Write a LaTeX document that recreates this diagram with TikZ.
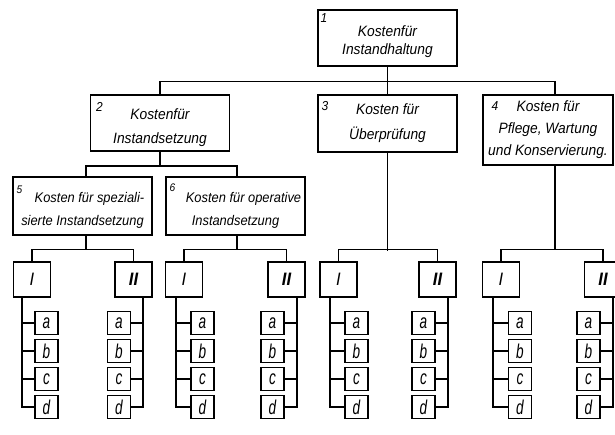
\documentclass[tikz,border=0pt]{standalone}
\usepackage{fontspec}
\setmainfont{Liberation Sans}[FakeStretch=0.92]
\newfontfamily\smallletters{Liberation Sans}[FakeStretch=0.68]
\usetikzlibrary{calc}
\begin{document}
\begin{tikzpicture}[x=1pt,y=-1pt,
  conn/.style={line width=1.1pt},
  box/.style={draw,line width=1.4pt,inner sep=0pt,align=center,font=\itshape\fontsize{15}{22}\selectfont},
  num/.style={inner sep=0pt,font=\itshape\fontsize{13}{13}\selectfont},
  rom/.style={draw,line width=1.4pt,minimum width=37pt,minimum height=35pt,inner sep=0pt,font=\itshape\fontsize{18}{18}\selectfont},
  sm/.style={draw,line width=1.4pt,minimum width=23pt,minimum height=23pt,inner sep=0pt,font=\smallletters\itshape\fontsize{20}{20}\selectfont}]
\useasboundingbox (0,0) rectangle (615,434);
\clip (0,0) rectangle (615,434);

% level 1
\node[box,minimum width=139pt,minimum height=56pt] (b1) at (387.5,38) {\rule{0pt}{19pt}Kostenfür\\[-4pt]Instandhaltung};
% level 2
\node[box,minimum width=139pt,minimum height=56pt] (b2) at (160,123) {\rule{0pt}{20pt}Kostenfür\\[2pt]Instandsetzung};
\node[box,minimum width=139pt,minimum height=57pt] (b3) at (387.5,123.5) {Kosten für\\[3pt]Überprüfung};
\node[box,minimum width=130pt,minimum height=70pt] (b4) at (548,130) {Kosten für\\Pflege, Wartung\\und Konservierung.};
% level 3
\node[box,minimum width=139pt,minimum height=58pt,font=\itshape\fontsize{14}{22}\selectfont] (b5) at (82.5,206) {\rule{0pt}{19pt}\hspace*{14pt}Kosten für speziali-\\[1pt]sierte Instandsetzung};
\node[box,minimum width=139pt,minimum height=58pt,font=\itshape\fontsize{14}{22}\selectfont] (b6) at (235.5,206) {\rule{0pt}{19pt}\hspace*{16pt}Kosten für operative\\[1pt]Instandsetzung};

% numbers
\node[num] (n1) at (324,18) {1};
\node[num] (n2) at (99.5,107) {2};
\node[num] (n3) at (325,106) {3};
\node[num] (n4) at (495,106) {4};
\node[num,font=\itshape\fontsize{11}{11}\selectfont] (n5) at (19.5,190) {5};
\node[num,font=\itshape\fontsize{11}{11}\selectfont] (n6) at (172.5,188) {6};

% drop points
\coordinate (b4top) at (555,95);
\coordinate (b4bot) at (555,165);
\coordinate (b5top) at (86,177);
\coordinate (b5bot) at (86,235);
\coordinate (b6top) at (237,177);
\coordinate (b6bot) at (237,235);

% connectors level 1 -> 2
\draw[conn] (b1.south) -- ++(0,16) coordinate (j0);
\draw[conn] (b2.north) -- ++(0,-13) -| (b4top);
\draw[conn] (b3.north) -- (b3.north |- j0);
% level 2 -> 3
\draw[conn] (b2.south) -- ++(0,15) coordinate (j2);
\draw[conn] (b5top) -- ++(0,-11) -| (b6top);

% roman boxes
\foreach \g/\xa/\xb in {1/32/133.5, 2/184/286.5, 3/338.5/437.5, 4/501/603} {
  \node[rom] (g\g I) at (\xa,279.5) {I};
  \node[rom] (g\g II) at (\xb,279.5) {\textbf{II}};
}
% parents -> roman
\draw[conn] (b5bot) -- ++(0,15) coordinate (k1);
\draw[conn] (b6bot) -- ++(0,15) coordinate (k2);
\draw[conn] (b3.south) -- ++(0,98) coordinate (k3);
\draw[conn] (b4bot) -- ++(0,85) coordinate (k4);
\foreach \g in {1,2,3,4} {
  \draw[conn] (g\g I.north) -- ++(0,-12) -| (g\g II.north);
}

% small boxes
\foreach \g/\ix/\iv/\iix/\iiv in {1/46.5/22/119/143, 2/202.5/176/272.5/297, 3/356.5/330/423.5/448, 4/520/493/588.5/613} {
  \foreach \l/\y in {a/323,b/351,c/379,d/407} {
    \node[sm] (g\g I\l) at (\ix,\y) {\l};
    \node[sm] (g\g II\l) at (\iix,\y) {\l};
  }
  \coordinate (g\g Iv) at (\iv,297);
  \coordinate (g\g IIv) at (\iiv,297);
  \draw[conn] (g\g Iv) |- (g\g Id.west);
  \draw[conn] (g\g IIv) |- (g\g IId.east);
  \foreach \l in {a,b,c} {
    \draw[conn] (g\g I\l.west) -- (g\g I\l.west -| g\g Iv);
    \draw[conn] (g\g II\l.east) -- (g\g II\l.east -| g\g IIv);
  }
}
\end{tikzpicture}
\end{document}
